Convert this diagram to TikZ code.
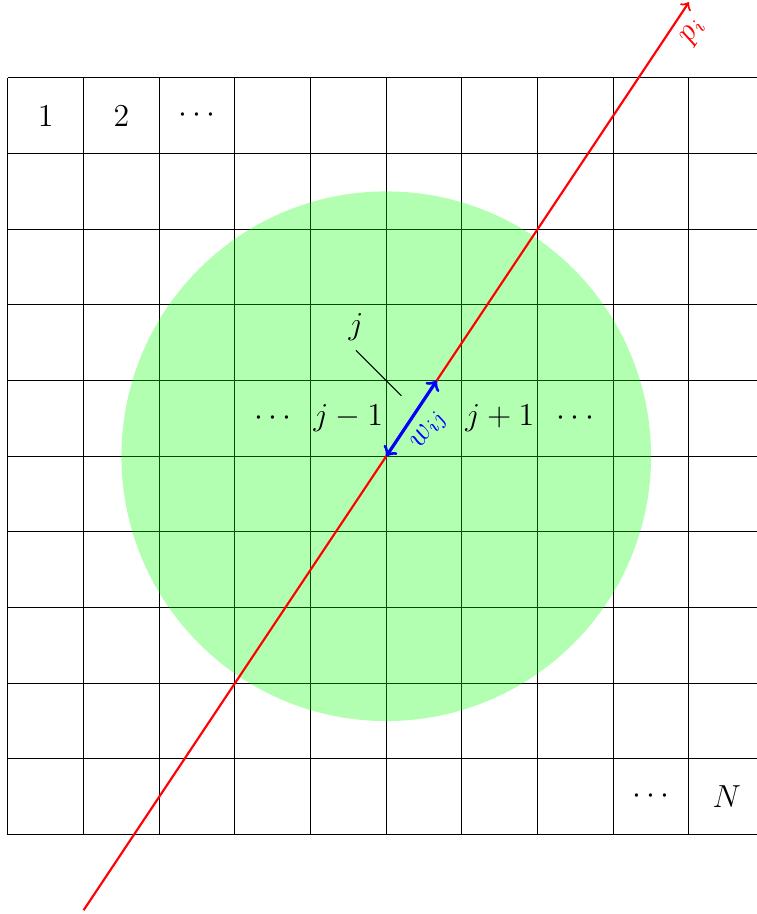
\documentclass[tikz,border=0pt]{standalone}
\begin{document}
\begin{tikzpicture}[every node/.style={font=\large}]
  \useasboundingbox (-0.105,-1.05) rectangle (9.895,11.03);
  \draw (0,0) grid (10,10);
  \fill[green, opacity=0.3] (5,5) circle (3.5);
  % cell labels
  \node (c1) at (0.5,9.5) {$1$};
  \node (c2) at (1.5,9.5) {$2$};
  \node (c3) at (2.5,9.5) {$\cdots$};
  \node (cm) at (8.5,0.5) {$\cdots$};
  \node (cN) at (9.5,0.5) {$N$};
  \node (l2) at (3.5,5.5) {$\cdots$};
  \node (l1) at (4.5,5.5) {$j-1$};
  \node (r1) at (6.5,5.5) {$j+1$};
  \node (r2) at (7.5,5.5) {$\cdots$};
  \coordinate (jp) at (5.2,5.8);
  \coordinate (jt) at (4.6,6.4);
  \node[above] (j) at (jt) {$j$};
  \draw (jp) -- (jt);
  % ray and weight
  \coordinate (a) at (1,-1);
  \coordinate (b) at (9,11);
  \draw[->, red, thick] (a) -- node[pos=1, sloped, below left] (p) {$p_i$} (b);
  \coordinate (w0) at (5,5);
  \coordinate (w1) at (5.667,6);
  \draw[<->, blue, very thick] (w0) -- node[midway, below, sloped] (w) {$w_{ij}$} (w1);
\end{tikzpicture}
\end{document}
